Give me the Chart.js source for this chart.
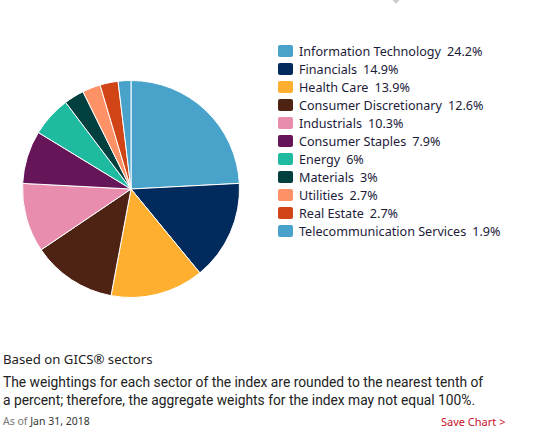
<!DOCTYPE html>
<html>
<head>
<meta charset="utf-8">
<script src="https://cdn.jsdelivr.net/npm/chart.js@4"></script>
<style>
    body { margin: 0; background: #fff; font-family: "Noto Sans", Roboto, sans-serif; color: #1d1d2f; }
    .wrap { position: relative; width: 549px; height: 437px; overflow: hidden; }
    .caret { position: absolute; left: 389px; top: -4px; width: 0; height: 0;
        border-left: 7px solid transparent; border-right: 7px solid transparent; border-top: 8px solid #ccc; }
    .pie-box { position: absolute; left: 22px; top: 80px; width: 218px; height: 218px; }
    .legend { position: absolute; left: 278px; top: 42px; list-style: none; margin: 0; padding: 0; }
    .legend li { height: 18px; display: flex; align-items: center; font-size: 12.6px; color: #1d1b3a; white-space: nowrap; }
    .legend .sw { width: 15px; height: 12px; border-radius: 2px; margin-right: 6px; flex: none; }
    .legend .val { margin-left: 6px; }
    .note1 { position: absolute; left: 3px; top: 350px; font-size: 13.2px; color: #222; }
    .note2 { position: absolute; left: 3px; top: 373px; width: 484px; font-family: Roboto, sans-serif;
        font-size: 13.8px; line-height: 18px; color: #222; }
    .asof { position: absolute; left: 3px; top: 414px; font-size: 10.5px; color: #777; }
    .asof span { color: #333; }
    .save { position: absolute; left: 441px; top: 414px; font-size: 11px; color: #c8102e; }
</style>
</head>
<body>
<div class="wrap">
    <div class="caret"></div>
    <div class="pie-box"><canvas id="sectorChart"></canvas></div>
    <ul class="legend" id="legend"></ul>
    <div class="note1">Based on GICS® sectors</div>
    <div class="note2">The weightings for each sector of the index are rounded to the nearest tenth of a percent; therefore, the aggregate weights for the index may not equal 100%.</div>
    <div class="asof">As of <span>Jan 31, 2018</span></div>
    <div class="save">Save Chart &gt;</div>
</div>
<script>
// Datos de sectores
const sectors = ['Information Technology', 'Financials', 'Health Care', 'Consumer Discretionary', 'Industrials',
    'Consumer Staples', 'Energy', 'Materials', 'Utilities', 'Real Estate', 'Telecommunication Services'];
const weights = [24.2, 14.9, 13.9, 12.6, 10.3, 7.9, 6, 3, 2.7, 2.7, 1.9];
const colors = ['#48a2c9', '#002b5c', '#ffaf2f', '#4e2314', '#e88dae', '#661559', '#1fbba0', '#01403f',
    '#ff9166', '#d04416', '#48a2c9'];

// Leyenda
const legend = document.getElementById('legend');
sectors.forEach((name, i) => {
    const li = document.createElement('li');
    li.innerHTML = '<span class="sw" style="background:' + colors[i] + '"></span>' + name +
        '<span class="val">' + weights[i] + '%</span>';
    legend.appendChild(li);
});

new Chart(document.getElementById('sectorChart'), {
    type: 'pie',
    data: {
        labels: sectors,
        datasets: [{
            data: weights,
            backgroundColor: colors,
            borderColor: '#fff',
            borderWidth: 1
        }]
    },
    options: {
        responsive: true,
        maintainAspectRatio: false,
        animation: false,
        plugins: {
            legend: { display: false },
            tooltip: { enabled: false }
        }
    }
});
</script>
</body>
</html>
